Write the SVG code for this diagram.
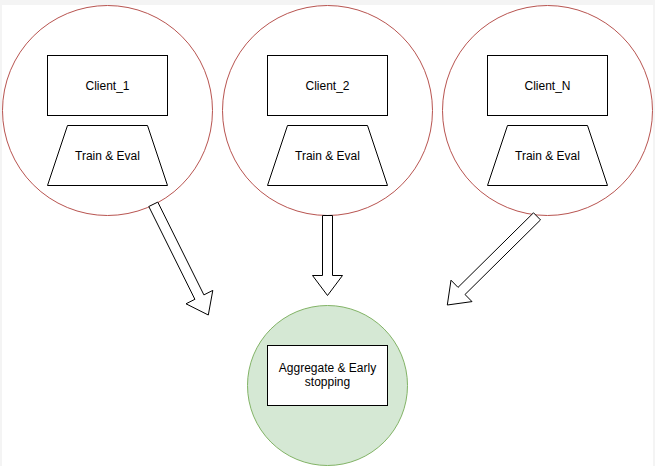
<svg xmlns="http://www.w3.org/2000/svg" width="655" height="466" viewBox="0 0 655 466">
<style>
.client{fill:#ffffff;stroke:#b85450;stroke-width:1}
.box{fill:#ffffff;stroke:#000000;stroke-width:1}
.agg{fill:#d5e8d4;stroke:#82b366;stroke-width:1}
.arrow{fill:#ffffff;stroke:#000000;stroke-width:1;stroke-linejoin:miter}
text{font-family:"Liberation Sans",Arial,sans-serif;font-size:12px;fill:#000000;text-anchor:middle;dominant-baseline:central}
</style>
<rect x="0" y="0" width="655" height="466" fill="#f4f4f4"/>
<rect x="2" y="5" width="651" height="461" fill="#ffffff"/>
<g id="client1">
<circle class="client" cx="107.5" cy="110.5" r="105"/>
<rect class="box" x="47.5" y="55.5" width="120" height="60"/>
<text x="107.5" y="85.5">Client_1</text>
<polygon class="box" points="67.5,125.5 147.5,125.5 167.5,185.5 47.5,185.5"/>
<text x="107.5" y="155.5">Train &amp; Eval</text>
</g>
<g id="client2">
<circle class="client" cx="327.5" cy="110.5" r="105"/>
<rect class="box" x="267.5" y="55.5" width="120" height="60"/>
<text x="327.5" y="85.5">Client_2</text>
<polygon class="box" points="287.5,125.5 367.5,125.5 387.5,185.5 267.5,185.5"/>
<text x="327.5" y="155.5">Train &amp; Eval</text>
</g>
<g id="clientN">
<circle class="client" cx="547.5" cy="110.5" r="105"/>
<rect class="box" x="487.5" y="55.5" width="120" height="60"/>
<text x="547.5" y="85.5">Client_N</text>
<polygon class="box" points="507.5,125.5 587.5,125.5 607.5,185.5 487.5,185.5"/>
<text x="547.5" y="155.5">Train &amp; Eval</text>
</g>
<g id="aggregator">
<circle class="agg" cx="327.5" cy="385.5" r="80"/>
<rect class="box" x="267.5" y="345.5" width="120" height="60"/>
<text x="327.5" y="368">Aggregate &amp; Early</text>
<text x="327.5" y="382">stopping</text>
</g>
<g id="connectors">
<polygon class="arrow" points="157.8,202.1 203.9,294.9 212.8,290.4 208.3,315 186,303.8 194.9,299.3 148.8,206.5"/>
<polygon class="arrow" points="322.5,215.5 332.5,215.5 332.5,275.5 342.5,275.5 327.5,295.5 312.5,275.5 322.5,275.5"/>
<polygon class="arrow" points="540.5,219.9 465,294.5 472,301.6 447.3,305 451,280.2 458,287.4 533.5,212.8"/>
</g>
</svg>
